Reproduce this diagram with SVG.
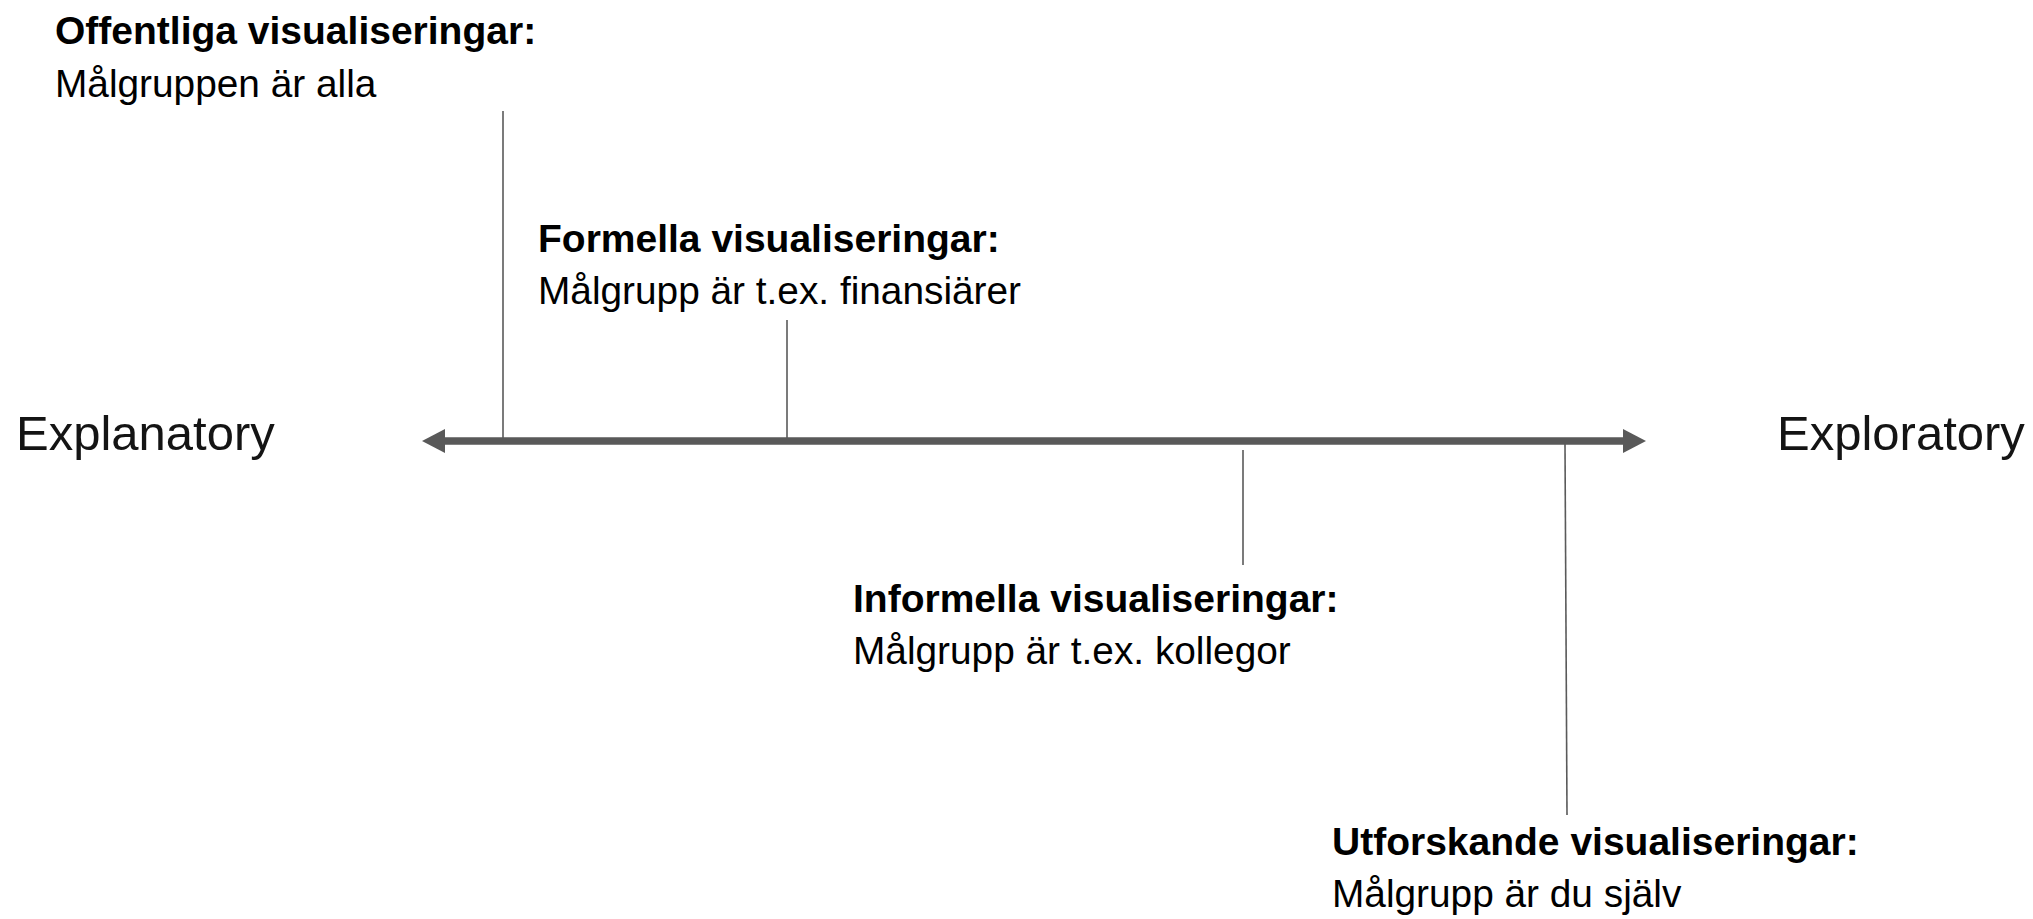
<svg xmlns="http://www.w3.org/2000/svg" width="2033" height="919" viewBox="0 0 2033 919">
  <style>
    .title { font-family: "Liberation Sans", Arial, sans-serif; font-size: 39px; font-weight: bold; fill: #000; }
    .sub { font-family: "Liberation Sans", Arial, sans-serif; font-size: 38.8px; fill: #000; }
    .end { font-family: "Liberation Sans", Arial, sans-serif; font-size: 49px; fill: #141414; }
    .tick { stroke: #5a5a5a; stroke-width: 1.6; fill: none; }
    .axis { stroke: #595959; stroke-width: 7.5; fill: none; }
  </style>
  <defs>
    <marker id="ah" markerUnits="userSpaceOnUse" markerWidth="24" markerHeight="25" refX="0" refY="12" orient="auto-start-reverse" viewBox="0 0 24 24">
      <path d="M0,0 L23,12 L0,24 z" fill="#595959"/>
    </marker>
  </defs>
  <rect width="2033" height="919" fill="#ffffff"/>

  <g id="connectors">
    <line class="axis" x1="445" y1="441" x2="1623" y2="441" marker-start="url(#ah)" marker-end="url(#ah)"/>
    <line class="tick" x1="503" y1="111" x2="503" y2="438"/>
    <line class="tick" x1="787" y1="320" x2="787" y2="438"/>
    <line class="tick" x1="1243" y1="450" x2="1243" y2="565"/>
    <line class="tick" x1="1565" y1="444" x2="1567" y2="815"/>
  </g>

  <g id="explanatory">
    <text class="end" x="16" y="450">Explanatory</text>
  </g>
  <g id="exploratory">
    <text class="end" x="1777" y="450">Exploratory</text>
  </g>

  <g id="offentliga">
    <text class="title" x="55" y="44">Offentliga visualiseringar:</text>
    <text class="sub" x="55" y="97">Målgruppen är alla</text>
  </g>
  <g id="formella">
    <text class="title" x="538" y="252">Formella visualiseringar:</text>
    <text class="sub" x="538" y="304">Målgrupp är t.ex. finansiärer</text>
  </g>
  <g id="informella">
    <text class="title" x="853" y="612">Informella visualiseringar:</text>
    <text class="sub" x="853" y="664">Målgrupp är t.ex. kollegor</text>
  </g>
  <g id="utforskande">
    <text class="title" x="1332" y="855">Utforskande visualiseringar:</text>
    <text class="sub" x="1332" y="907">Målgrupp är du själv</text>
  </g>
</svg>
